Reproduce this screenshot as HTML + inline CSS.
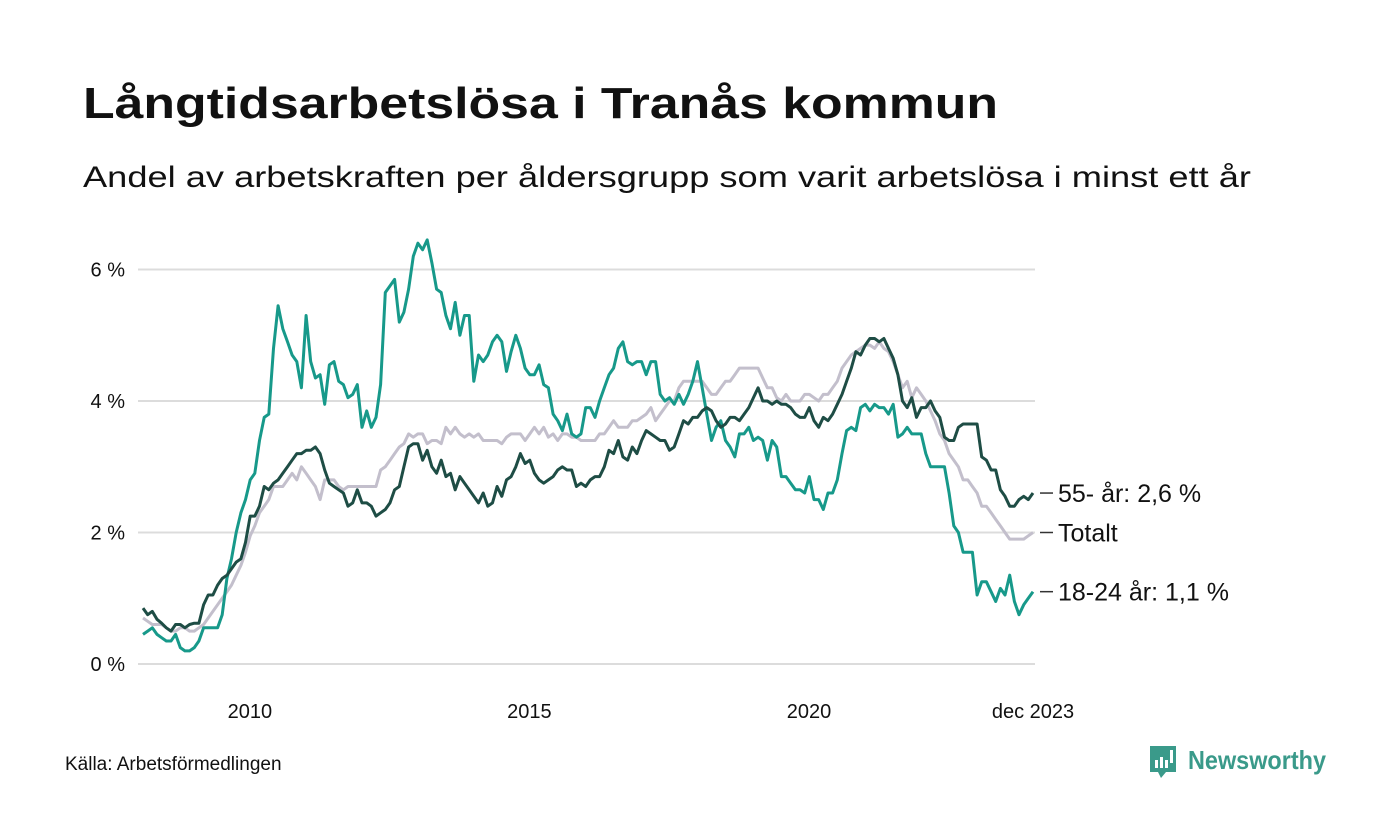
<!DOCTYPE html>
<html><head><meta charset="utf-8"><style>
html,body{margin:0;padding:0;background:#fff;}
svg{display:block;font-family:"Liberation Sans","DejaVu Sans",sans-serif;}
</style></head><body>
<svg id="chart" width="1400" height="840" viewBox="0 0 1400 840">
<text x="83" y="118" font-size="44" font-weight="bold" fill="#111" textLength="915" lengthAdjust="spacingAndGlyphs">Långtidsarbetslösa i Tranås kommun</text>
<text x="83" y="187" font-size="30" fill="#111" textLength="1168" lengthAdjust="spacingAndGlyphs">Andel av arbetskraften per åldersgrupp som varit arbetslösa i minst ett år</text>
<g id="grid"></g>
<g id="yticks"></g>
<g id="xticks"></g>
<g id="lines"></g>
<g id="labels"></g>
<text x="65" y="770" font-size="19" fill="#111">Källa: Arbetsförmedlingen</text>
<g>
<path d="M1150 746 h26 v26 h-10 l-5 6 l-3 -6 h-8 z" fill="#3a9a8a"/>
<rect x="1155" y="760" width="3" height="8" fill="#fff"/>
<rect x="1160" y="757" width="3" height="11" fill="#fff"/>
<rect x="1165" y="760" width="3" height="8" fill="#fff"/>
<rect x="1170" y="750" width="3" height="13" fill="#fff"/>
<text x="1188" y="769" font-size="26" font-weight="bold" fill="#3a9a8a" textLength="138" lengthAdjust="spacingAndGlyphs">Newsworthy</text>
</g>
</svg>
<script>
const startYear = 2008;
const yTickValues = [0, 2, 4, 6];
const yTickLabels = ["0 %", "2 %", "4 %", "6 %"];
const xTickYears = [2010, 2015, 2020];
const xTickLabels = ["2010", "2015", "2020"];
const totalValues = [
0.7,0.65,0.6,0.6,0.6,0.55,0.5,0.5,0.55,0.55,0.5,0.5,
0.55,0.6,0.7,0.8,0.9,1.0,1.1,1.2,1.35,1.5,1.7,1.95,
2.1,2.3,2.4,2.5,2.7,2.7,2.7,2.8,2.9,2.8,3.0,2.9,
2.8,2.7,2.5,2.8,2.8,2.8,2.7,2.65,2.7,2.7,2.7,2.7,
2.7,2.7,2.7,2.95,3.0,3.1,3.2,3.3,3.35,3.5,3.45,3.5,
3.5,3.35,3.4,3.4,3.35,3.6,3.5,3.6,3.5,3.45,3.5,3.45,
3.5,3.4,3.4,3.4,3.4,3.35,3.45,3.5,3.5,3.5,3.4,3.5,
3.6,3.5,3.6,3.45,3.5,3.4,3.5,3.5,3.45,3.45,3.4,3.4,
3.4,3.4,3.5,3.5,3.6,3.7,3.6,3.6,3.6,3.7,3.7,3.75,
3.8,3.9,3.7,3.8,3.9,4.0,4.0,4.2,4.3,4.3,4.3,4.3,
4.3,4.2,4.1,4.1,4.2,4.3,4.3,4.4,4.5,4.5,4.5,4.5,
4.5,4.35,4.2,4.2,4.05,4.0,4.1,4.0,4.0,4.0,4.1,4.1,
4.05,4.0,4.1,4.1,4.2,4.3,4.5,4.6,4.7,4.75,4.8,4.85,
4.85,4.8,4.9,4.8,4.75,4.6,4.4,4.2,4.3,4.05,4.2,4.1,
4.0,3.85,3.7,3.5,3.4,3.2,3.1,3.0,2.8,2.8,2.7,2.6,
2.4,2.4,2.3,2.2,2.1,2.0,1.9,1.9,1.9,1.9,1.95,2.0];
const youthValues = [
0.45,0.5,0.55,0.45,0.4,0.35,0.35,0.45,0.25,0.2,0.2,0.25,
0.35,0.55,0.55,0.55,0.55,0.75,1.3,1.6,2.0,2.3,2.5,2.8,
2.9,3.4,3.75,3.8,4.8,5.45,5.1,4.9,4.7,4.6,4.2,5.3,
4.6,4.35,4.4,3.95,4.55,4.6,4.3,4.25,4.05,4.1,4.25,3.6,
3.85,3.6,3.75,4.25,5.65,5.75,5.85,5.2,5.35,5.7,6.2,6.4,
6.3,6.45,6.1,5.7,5.65,5.3,5.1,5.5,5.0,5.3,5.3,4.3,
4.7,4.6,4.7,4.9,5.0,4.9,4.45,4.75,5.0,4.8,4.5,4.4,
4.4,4.55,4.25,4.2,3.8,3.7,3.55,3.8,3.5,3.45,3.5,3.9,
3.9,3.75,4.0,4.2,4.4,4.5,4.8,4.9,4.6,4.55,4.6,4.6,
4.4,4.6,4.6,4.1,4.0,4.05,3.95,4.1,3.95,4.1,4.3,4.6,
4.2,3.8,3.4,3.6,3.7,3.4,3.3,3.15,3.5,3.5,3.6,3.4,
3.45,3.4,3.1,3.4,3.3,2.85,2.85,2.75,2.65,2.65,2.6,2.85,
2.5,2.5,2.35,2.6,2.6,2.8,3.2,3.55,3.6,3.55,3.9,3.95,
3.85,3.95,3.9,3.9,3.8,3.95,3.45,3.5,3.6,3.5,3.5,3.5,
3.2,3.0,3.0,3.0,3.0,2.6,2.1,2.0,1.7,1.7,1.7,1.05,
1.25,1.25,1.1,0.95,1.15,1.05,1.35,0.95,0.75,0.9,1.0,1.1];
const seniorValues = [
0.85,0.75,0.8,0.68,0.62,0.55,0.5,0.6,0.6,0.55,0.6,0.62,
0.62,0.9,1.05,1.05,1.2,1.3,1.35,1.45,1.55,1.6,1.85,2.25,
2.25,2.4,2.7,2.65,2.75,2.8,2.9,3.0,3.1,3.2,3.2,3.25,
3.25,3.3,3.2,2.95,2.75,2.7,2.65,2.6,2.4,2.45,2.65,2.45,
2.45,2.4,2.25,2.3,2.35,2.45,2.65,2.7,3.0,3.3,3.35,3.35,
3.1,3.25,3.0,2.9,3.1,2.85,2.9,2.65,2.85,2.75,2.65,2.55,
2.45,2.6,2.4,2.45,2.7,2.55,2.8,2.85,3.0,3.2,3.05,3.1,
2.9,2.8,2.75,2.8,2.85,2.95,3.0,2.95,2.95,2.7,2.75,2.7,
2.8,2.85,2.85,3.0,3.25,3.2,3.4,3.15,3.1,3.3,3.2,3.4,
3.55,3.5,3.45,3.4,3.4,3.25,3.3,3.5,3.7,3.65,3.75,3.75,
3.85,3.9,3.85,3.7,3.6,3.65,3.75,3.75,3.7,3.8,3.9,4.05,
4.2,4.0,4.0,3.95,4.0,3.95,3.95,3.9,3.8,3.75,3.75,3.9,
3.7,3.6,3.75,3.7,3.8,3.95,4.1,4.3,4.5,4.75,4.7,4.85,
4.95,4.95,4.9,4.95,4.8,4.65,4.4,4.0,3.9,4.05,3.75,3.9,
3.9,4.0,3.85,3.75,3.45,3.4,3.4,3.6,3.65,3.65,3.65,3.65,
3.15,3.1,2.95,2.95,2.65,2.55,2.4,2.4,2.5,2.55,2.5,2.6];
const seriesNames = ["totalt", "18-24", "55-"];
const endLabels = ["55- år: 2,6 %", "Totalt", "18-24 år: 1,1 %"];

const NS = "http://www.w3.org/2000/svg";
const X0 = 143, X1 = 1033, Y0 = 664, PXPCT = 65.75;
const nMonths = 192;
function xScale(monthIndex){ return X0 + monthIndex * (X1 - X0) / (nMonths - 1); }
function yScale(v){ return Y0 - v * PXPCT; }
function mk(tag, attrs, parent){ const e = document.createElementNS(NS, tag); for (const k in attrs) e.setAttribute(k, attrs[k]); parent.appendChild(e); return e; }

const grid = document.getElementById("grid");
const yticks = document.getElementById("yticks");
yTickValues.forEach((v, i) => {
  const l = mk("line", {x1: 138, x2: 1035, y1: yScale(v), y2: yScale(v), stroke: "#dcdcdc", "stroke-width": 2}, grid);
  
  
  const t = mk("text", {x: 125, y: yScale(v) + 7, "font-size": 20, fill: "#111", "text-anchor": "end"}, yticks);
  t.textContent = yTickLabels[i];
  
  
});
const xticks = document.getElementById("xticks");
xTickYears.forEach((yr, i) => {
  const t = mk("text", {x: xScale((yr - startYear) * 12) - 5, y: 718, "font-size": 20, fill: "#111", "text-anchor": "middle"}, xticks);
  t.textContent = xTickLabels[i];
  
  
});
const lastT = mk("text", {x: 1033, y: 718, "font-size": 20, fill: "#111", "text-anchor": "middle"}, xticks);
lastT.textContent = "dec 2023";



const lines = document.getElementById("lines");
const seriesList = [totalValues, youthValues, seniorValues];
const colors = ["#c3bfcc", "#17998a", "#1e4d45"];
seriesList.forEach((vals, s) => {
  const d = vals.map((v, i) => (i ? "L" : "M") + xScale(i).toFixed(1) + " " + yScale(v).toFixed(1)).join(" ");
  const p = mk("path", {d: d, fill: "none", stroke: colors[s], "stroke-width": 3, "stroke-linejoin": "round"}, lines);
  
  
});

const labels = document.getElementById("labels");
const labelSeries = [seniorValues, totalValues, youthValues];
let ys = labelSeries.map(v => yScale(v[v.length - 1]));
for (let i = 1; i < ys.length; i++) if (ys[i] < ys[i - 1] + 38) ys[i] = ys[i - 1] + 38;
labelSeries.forEach((vals, i) => {
  const y = ys[i];
  const l = mk("line", {x1: 1040, x2: 1053, y1: y, y2: y, stroke: "#333", "stroke-width": 1.5}, labels);
  
  
  const t = mk("text", {x: 1058, y: y + 9, "font-size": 25, fill: "#111"}, labels);
  t.textContent = endLabels[i];
  
  
});
</script>
</body></html>
